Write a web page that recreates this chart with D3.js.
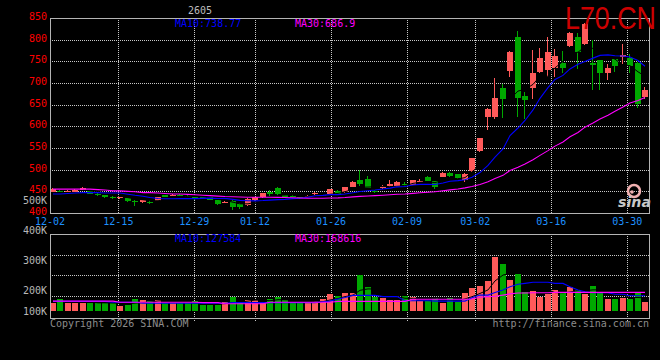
<!DOCTYPE html>
<html><head><meta charset="utf-8">
<script src="https://cdn.jsdelivr.net/npm/d3@7"></script>
<style>html,body{margin:0;padding:0;background:#000;} svg{display:block}</style>
</head><body>
<svg id="c" width="660" height="360"></svg>
<script>
// ---- data (one entry per trading day, 80 days) ----
const openP  = [449,451,450,449,453,450,445,441,437,434, 434,427,425,426,428,441,440,442,440,438, 437,436,430,424,428,420,418,430,436,448, 458,441,440,436,438,443,440,443,451,448, 461,476,478,450,457,463,463,466,465,474, 484,474,484,493,490,476,496,543,622,622, 689,727,807,670,688,726,730,734,745,785, 805,790,746,753,724,755,759,757,747,667];
const highP  = [457,453,453,455,459,451,447,442,439,436, 435,429,430,430,437,442,443,443,441,440, 438,437,431,427,429,422,435,438,447,452, 460,442,442,437,442,448,442,456,453,460, 473,499,485,452,465,476,473,471,477,478, 486,475,494,495,491,492,528,573,643,712, 698,773,821,680,776,781,805,778,774,817, 816,838,800,754,744,756,790,767,749,690];
const lowP   = [448,448,448,448,452,444,440,435,432,433, 426,417,423,420,427,436,439,439,437,431, 433,429,419,423,408,410,417,428,435,440, 440,436,436,433,436,442,439,442,443,447, 460,463,457,446,455,460,461,461,464,472, 474,456,483,484,479,472,494,541,591,617, 620,714,622,617,663,723,714,714,722,783, 732,788,684,684,708,726,744,724,642,662];
const closeP = [455,449,451,453,458,445,441,437,435,436, 428,425,429,424,436,437,441,440,439,433, 434,431,420,426,414,414,432,437,446,444, 444,437,438,434,439,447,441,455,444,459, 472,466,458,448,463,468,471,464,476,475, 475,460,493,486,480,489,527,572,641,666, 663,772,665,660,724,757,772,762,734,815, 772,836,742,723,735,739,764,739,652,685];
const volume = [158000,170000,158000,158000,156000,158000,156000,158000,156000,148000, 150000,170000,167000,163000,167000,156000,156000,156000,156000,163000, 150000,150000,150000,159000,178000,161000,167000,167000,156000,170000, 178000,167000,161000,156000,156000,164000,170000,187000,180000,189000, 189000,250000,210000,178000,172000,166000,166000,180000,178000,164000, 163000,172000,158000,172000,161000,189000,208000,213000,230000,311000, 287000,233000,253000,194000,197000,178000,187000,200000,191000,211000, 200000,187000,213000,191000,170000,170000,174000,170000,191000,161000];
// moving averages as drawn on the chart
const ma10 = [444,444,445,446,447,447,447,446,446,446.0, 443.3,440.9,438.7,435.8,433.6,432.8,432.8,433.1,433.5,433.2, 433.8,434.4,433.5,433.7,431.5,429.2,428.3,428.0,428.7,429.8, 430.8,431.4,433.2,434.0,436.5,439.8,440.7,442.5,442.3,443.8, 446.6,449.5,451.5,452.9,455.3,457.4,460.4,461.3,464.5,466.1, 466.4,465.8,469.3,473.1,474.8,476.9,482.5,493.3,509.8,528.9, 547.7,578.9,596.1,613.5,637.9,664.7,689.2,708.2,717.5,732.4, 743.3,749.7,757.4,763.7,764.8,763.0,762.2,759.9,751.7,738.7];
const ma30 = [455,455,455,455,455,455,454,453,451,451, 450,449,447,447,446,445,444,444,443,442, 441,440,439,438,437.5,437,436.5,436.5,436.5,436.3, 436.0,435.6,435.1,434.5,433.9,433.9,433.9,434.5,434.8,435.6, 437.1,438.4,439.4,440.2,441.1,442.1,443.1,443.9,445.2,446.6, 447.9,448.9,451.3,453.3,455.5,458.0,461.2,465.7,472.2,479.6, 486.9,498.1,505.6,513.2,522.7,533.0,544.0,554.3,563.9,575.8, 585.8,598.1,607.6,616.8,625.8,634.9,644.6,653.8,659.7,666.7];
const volMa10 = [162000,162000,162000,162000,162000,162000,162000,162000,159000,159000, 159000,159000,156000,156000,156000,156000,156000,156000,156000,156000, 156000,156000,156000,156000,158000,158000,158000,158000,158000,158000, 158000,158000,158000,158000,158000,158000,161000,163000,170000,175000, 182000,182000,182000,182000,178000,178000,178000,164000,164000,164000, 164000,163000,163000,163000,163000,163000,174000,183000,183000,192000, 200000,211000,219000,222000,226000,226000,226000,222000,222000,211000, 200000,194000,191000,191000,191000,186000,186000,181000,181000,181000];
const volMa30 = [163000,163000,163000,163000,163000,163000,163000,163000,163000,159000, 159000,159000,159000,159000,159000,159000,159000,159000,159000,159000, 158000,158000,158000,154000,154000,154000,154000,154000,154000,159000, 159000,159000,159000,159000,159000,159000,159000,159000,162000,162000, 162000,162000,162000,162000,162000,162000,162000,162000,169000,169000, 169000,169000,169000,169000,169000,169000,170000,176000,178000,179000, 183000,187000,190000,190000,191000,191000,191000,192000,192000,192000, 192000,192000,192000,192000,192000,192000,192000,192000,192000,192000];
const dateLabels = ["12-02","12-15","12-29","01-12","01-26","02-09","03-02","03-16","03-30"];
const dateLabelIdx = [0,9,19,27,37,47,56,66,76];
const priceTicks = [850,800,750,700,650,600,550,500,450,400];
const volTicks = [500000,400000,300000,200000,100000];
const volTickLabels = ["500K","400K","300K","200K","100K"];
const legendMain = ["MA10:738.77","MA30:686.9"];
const legendVol = ["MA10:127584","MA30:168616"];

// ---- layout ----
const L = 50, R = 650, T = 18, B = 213;
const VT = 234, VB = 318, VBASE = 311;
const N = closeP.length;
const xBar = d3.scaleLinear().domain([0, 80]).range([L, R]);
const xGrid = d3.scaleLinear().domain([0, 79]).range([L, R]);
const yP = d3.scaleLinear().domain([400, 850]).range([B, T]);
const yV = d3.scaleLinear().domain([100000, 500000]).range([320, 200]);
const UP = "#ff5a5a", DOWN = "#00a800", GRID = "#c8c8c8";
const MONO = "'DejaVu Sans Mono', monospace";

const svg = d3.select("#c");
svg.append("rect").attr("width", 660).attr("height", 360).attr("fill", "#000");

const bx = i => Math.floor(xBar(i));
const cx = i => bx(i) + 3;
const idx = d3.range(N);
const isUp = i => closeP[i] >= openP[i];

// grid
const g = svg.append("g").attr("shape-rendering", "crispEdges");
priceTicks.filter(v => v > 400 && v < 850).forEach(v => {
  g.append("line").attr("x1", L).attr("x2", R).attr("y1", Math.round(yP(v)) + 0.5).attr("y2", Math.round(yP(v)) + 0.5)
    .attr("stroke", GRID).attr("stroke-dasharray", "1,1");
});
dateLabelIdx.filter(i => i > 0).forEach(i => {
  const x = Math.round(xGrid(i)) + 0.5;
  g.append("line").attr("x1", x).attr("x2", x).attr("y1", T).attr("y2", B).attr("stroke", GRID).attr("stroke-dasharray", "1,1");
  g.append("line").attr("x1", x).attr("x2", x).attr("y1", VT).attr("y2", VB + 4).attr("stroke", GRID).attr("stroke-dasharray", "1,1");
});
const yVg = d3.scaleLinear().domain([0, 1]).range([VT, VB - 2]);
[0.25, 0.5, 0.75].forEach(f => {
  const y = Math.round(yVg(f)) + 0.5;
  g.append("line").attr("x1", L).attr("x2", R).attr("y1", y).attr("y2", y).attr("stroke", GRID).attr("stroke-dasharray", "1,1");
});

// sina logo (behind)
const logo = svg.append("g");
logo.append("circle").attr("cx", 634).attr("cy", 191).attr("r", 6).attr("fill", "none").attr("stroke", "#f0b0b0").attr("stroke-width", 2.5);
logo.append("circle").attr("cx", 632).attr("cy", 192).attr("r", 1.8).attr("fill", "#f0b0b0");
logo.append("text").attr("x", 618).attr("y", 207).attr("font-family", "'DejaVu Sans', sans-serif").attr("font-weight", "bold")
  .attr("font-style", "italic").attr("font-size", 14).attr("fill", "#c8c8c8").attr("textLength", 33).attr("lengthAdjust", "spacingAndGlyphs").text("sina");

// candles
const cg = svg.append("g").attr("shape-rendering", "crispEdges");
cg.selectAll("rect.w").data(idx).join("rect").attr("class", "w")
  .attr("x", i => bx(i) + 2).attr("width", 1)
  .attr("y", i => Math.round(yP(highP[i])))
  .attr("height", i => Math.max(1, Math.round(yP(lowP[i])) - Math.round(yP(highP[i]))))
  .attr("fill", i => isUp(i) ? UP : DOWN);
cg.selectAll("rect.b").data(idx).join("rect").attr("class", "b")
  .attr("x", i => bx(i)).attr("width", 6)
  .attr("y", i => Math.round(yP(Math.max(openP[i], closeP[i]))))
  .attr("height", i => Math.max(1, Math.round(yP(Math.min(openP[i], closeP[i]))) - Math.round(yP(Math.max(openP[i], closeP[i])))))
  .attr("fill", i => isUp(i) ? UP : DOWN);

// MA lines main
const ma5 = idx.map(i => i >= 4 ? d3.mean(closeP.slice(i - 4, i + 1)) : null);
const line = (arr, ys) => d3.line().defined(i => arr[i] != null).x(i => cx(i)).y(i => ys(arr[i]))(idx);
svg.append("path").attr("d", line(ma5, yP)).attr("fill", "none").attr("stroke", "#000").attr("stroke-width", 1);
svg.append("path").attr("d", line(ma10, yP)).attr("fill", "none").attr("stroke", "#0000ff").attr("stroke-width", 1.1);
svg.append("path").attr("d", line(ma30, yP)).attr("fill", "none").attr("stroke", "#ff00ff").attr("stroke-width", 1.1);

// volume bars
const vg = svg.append("g").attr("shape-rendering", "crispEdges");
vg.selectAll("rect").data(idx).join("rect")
  .attr("x", i => bx(i)).attr("width", 6)
  .attr("y", i => Math.round(yV(volume[i])))
  .attr("height", i => VBASE - Math.round(yV(volume[i])))
  .attr("fill", i => isUp(i) ? UP : DOWN);
const vma5 = idx.map(i => i >= 4 ? d3.mean(volume.slice(i - 4, i + 1)) : null);
svg.append("path").attr("d", line(vma5, yV)).attr("fill", "none").attr("stroke", "#000").attr("stroke-width", 1);
svg.append("path").attr("d", line(volMa10, yV)).attr("fill", "none").attr("stroke", "#0000ff").attr("stroke-width", 1.1);
svg.append("path").attr("d", line(volMa30, yV)).attr("fill", "none").attr("stroke", "#ff00ff").attr("stroke-width", 1.1);

// borders
const bg = svg.append("g").attr("shape-rendering", "crispEdges").attr("fill", "none").attr("stroke", "#b4b4b4");
bg.append("rect").attr("x", L + 0.5).attr("y", T + 0.5).attr("width", R - L - 1).attr("height", B - T);
bg.append("rect").attr("x", L + 0.5).attr("y", VT + 0.5).attr("width", R - L - 1).attr("height", VB - VT);

// axis labels
const tg = svg.append("g").attr("font-family", MONO).attr("font-size", 10);
tg.selectAll("text.p").data(priceTicks).join("text").attr("class", "p")
  .attr("x", 47).attr("y", v => yP(v) + 2).attr("text-anchor", "end").attr("fill", "#ff0000").text(v => v);
tg.selectAll("text.v").data(volTicks).join("text").attr("class", "v")
  .attr("x", 47).attr("y", v => Math.min(yV(v) + 3.5, 314.5)).attr("text-anchor", "end").attr("fill", "#b8b8b8")
  .text((v, k) => volTickLabels[k]);
tg.selectAll("text.d").data(dateLabelIdx).join("text").attr("class", "d")
  .attr("x", i => xGrid(i)).attr("y", 224.5).attr("text-anchor", "middle").attr("fill", "#1e90ff")
  .text((i, k) => dateLabels[k]);

// legends
tg.append("text").attr("x", 175).attr("y", 27.3).attr("fill", "#0000ff").text(legendMain[0]);
tg.append("text").attr("x", 295).attr("y", 27.3).attr("fill", "#ff00ff").text(legendMain[1]);
tg.append("text").attr("x", 175).attr("y", 242).attr("fill", "#0000ff").text(legendVol[0]);
tg.append("text").attr("x", 295).attr("y", 242).attr("fill", "#ff00ff").text(legendVol[1]);
tg.append("text").attr("x", 188).attr("y", 13.5).attr("fill", "#bdbdbd").text("2605");
tg.append("text").attr("x", 50).attr("y", 327).attr("fill", "#8c8c8c").text("Copyright 2026 SINA.COM");
tg.append("text").attr("x", 649).attr("y", 327).attr("text-anchor", "end").attr("fill", "#8c8c8c").text("http://finance.sina.com.cn");

// symbol
svg.append("text").attr("x", 565).attr("y", 28.5).attr("font-family", "'Liberation Sans', Arial, sans-serif")
  .attr("font-size", 30.5).attr("fill", "#cc0000").attr("textLength", 91).attr("lengthAdjust", "spacingAndGlyphs").text("L70.CN");
</script>
</body></html>
